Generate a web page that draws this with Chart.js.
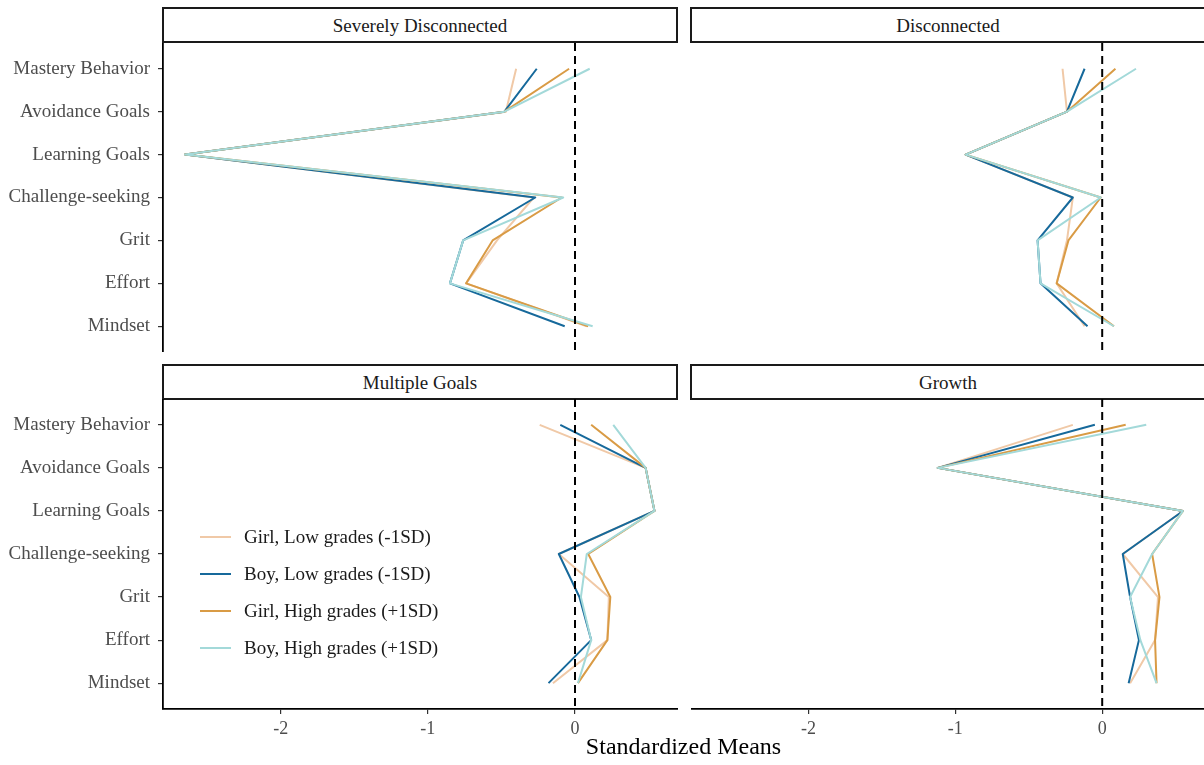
<!DOCTYPE html>
<html>
<head>
<meta charset="utf-8">
<script src="https://cdn.jsdelivr.net/npm/chart.js@4.4.1/dist/chart.umd.min.js"></script>
<style>
  body { margin: 0; background: #fff; font-family: "Liberation Serif", serif; }
  #wrap { position: relative; width: 1204px; height: 765px; overflow: hidden; }
  canvas { position: absolute; }
  .strip { position: absolute; box-sizing: border-box; border: 2px solid #1a1a1a; background: #fff;
           text-align: center; font-size: 19px; color: #1a1a1a; height: 36px; line-height: 34px; }
  #xtitle { position: absolute; left: 163px; width: 1041px; top: 733px; text-align: center;
            font-size: 24px; color: #000; }
  #legend { position: absolute; left: 200px; top: 518px; }
  .lg { height: 37px; display: flex; align-items: center; font-size: 19px; color: #1a1a1a; }
  .lg span.sw { display: inline-block; width: 31px; height: 2px; margin-right: 13px; }
</style>
</head>
<body>
<div id="wrap">
  <div class="strip" style="left:162px;top:7px;width:516px;">Severely Disconnected</div>
  <div class="strip" style="left:690px;top:7px;width:516px;">Disconnected</div>
  <div class="strip" style="left:162px;top:364px;width:516px;">Multiple Goals</div>
  <div class="strip" style="left:690px;top:364px;width:516px;">Growth</div>
  <canvas id="sd" width="678" height="309" style="left:0;top:43px;"></canvas>
  <canvas id="dc" width="514" height="309" style="left:691px;top:43px;"></canvas>
  <canvas id="mg" width="678" height="366" style="left:0;top:399px;"></canvas>
  <canvas id="gr" width="514" height="366" style="left:691px;top:399px;"></canvas>
  <div id="legend"></div>
  <div id="xtitle">Standardized Means</div>
</div>
<script>
/*** Data ***/
const categories = ['Mastery Behavior', 'Avoidance Goals', 'Learning Goals', 'Challenge-seeking', 'Grit', 'Effort', 'Mindset'];
const seriesNames = ['Girl, Low grades (-1SD)', 'Boy, Low grades (-1SD)', 'Girl, High grades (+1SD)', 'Boy, High grades (+1SD)'];
const seriesColors = ['#f0c9a7', '#16699b', '#d99b45', '#a3d9d9'];
const xTicks = [-2, -1, 0];

// Severely Disconnected
const sdGirlLow = [-0.40, -0.47, -2.65, -0.28, -0.53, -0.74, 0.08];
const sdBoyLow = [-0.26, -0.48, -2.65, -0.27, -0.76, -0.85, -0.07];
const sdGirlHigh = [-0.04, -0.48, -2.65, -0.09, -0.56, -0.74, 0.09];
const sdBoyHigh = [0.10, -0.48, -2.65, -0.08, -0.76, -0.85, 0.12];

// Disconnected
const dcGirlLow = [-0.27, -0.24, -0.93, -0.20, -0.24, -0.31, -0.12];
const dcBoyLow = [-0.12, -0.24, -0.93, -0.20, -0.44, -0.42, -0.10];
const dcGirlHigh = [0.09, -0.24, -0.93, -0.01, -0.23, -0.31, 0.08];
const dcBoyHigh = [0.23, -0.24, -0.93, -0.01, -0.44, -0.42, 0.08];

// Multiple Goals
const mgGirlLow = [-0.24, 0.48, 0.54, -0.11, 0.23, 0.22, -0.15];
const mgBoyLow = [-0.10, 0.48, 0.54, -0.11, 0.03, 0.11, -0.18];
const mgGirlHigh = [0.11, 0.48, 0.54, 0.09, 0.24, 0.22, 0.02];
const mgBoyHigh = [0.26, 0.48, 0.54, 0.08, 0.04, 0.11, 0.02];

// Growth
const grGirlLow = [-0.20, -1.12, 0.55, 0.14, 0.38, 0.36, 0.19];
const grBoyLow = [-0.05, -1.12, 0.55, 0.14, 0.19, 0.25, 0.18];
const grGirlHigh = [0.16, -1.12, 0.55, 0.34, 0.39, 0.36, 0.37];
const grBoyHigh = [0.30, -1.12, 0.55, 0.34, 0.19, 0.26, 0.37];

/*** Helpers ***/
const Y_MIN = -0.6, Y_MAX = categories.length - 1 + 0.6;

function toPoints(values) {
    return values.map((v, i) => ({ x: v, y: i }));
}

function drawPanel(id, series, showY, showX) {
    var datasets = [{
        data: [{ x: 0, y: Y_MIN }, { x: 0, y: Y_MAX }],
        showLine: true,
        borderColor: '#000',
        borderWidth: 2,
        borderDash: [8, 5],
        pointRadius: 0,
        order: 0
    }];
    series.forEach(function (values, i) {
        datasets.push({
            label: seriesNames[i],
            data: toPoints(values),
            showLine: true,
            borderColor: seriesColors[i],
            borderWidth: 2,
            borderJoinStyle: 'round',
            pointRadius: 0,
            order: 10 - i
        });
    });

    new Chart(document.getElementById(id), {
        type: 'scatter',
        data: { datasets: datasets },
        options: {
            responsive: false,
            animation: false,
            devicePixelRatio: 1,
            layout: { padding: 0 },
            plugins: { legend: { display: false }, tooltip: { enabled: false } },
            scales: {
                x: {
                    type: 'linear',
                    min: -2.8,
                    max: 0.7,
                    display: showX,
                    afterBuildTicks: function (scale) {
                        scale.ticks = xTicks.map(v => ({ value: v }));
                    },
                    afterFit: function (scale) {
                        scale.height = showX ? 56 : 0;
                        scale.paddingLeft = 0;
                        scale.paddingRight = 0;
                    },
                    grid: { drawOnChartArea: false, tickLength: 5, color: '#333', lineWidth: 1.2 },
                    border: { display: true, color: '#000', width: 1.8 },
                    ticks: { color: '#4d4d4d', padding: 4, font: { family: 'Liberation Serif', size: 18 } }
                },
                y: {
                    type: 'linear',
                    reverse: true,
                    min: Y_MIN,
                    max: Y_MAX,
                    display: showY,
                    afterBuildTicks: function (scale) {
                        scale.ticks = categories.map((c, i) => ({ value: i }));
                    },
                    afterFit: function (scale) {
                        scale.width = showY ? 163 : 0;
                        scale.paddingTop = 0;
                        scale.paddingBottom = 0;
                    },
                    grid: { drawOnChartArea: false, tickLength: 5, color: '#333', lineWidth: 1.2 },
                    border: { display: true, color: '#000', width: 1.8 },
                    ticks: {
                        color: '#4d4d4d',
                        padding: 8,
                        font: { family: 'Liberation Serif', size: 19 },
                        callback: function (v) { return categories[v]; }
                    }
                }
            }
        }
    });
}

/*** Panels ***/
drawPanel('sd', [sdGirlLow, sdBoyLow, sdGirlHigh, sdBoyHigh], true, false);
drawPanel('dc', [dcGirlLow, dcBoyLow, dcGirlHigh, dcBoyHigh], false, false);
drawPanel('mg', [mgGirlLow, mgBoyLow, mgGirlHigh, mgBoyHigh], true, true);
drawPanel('gr', [grGirlLow, grBoyLow, grGirlHigh, grBoyHigh], false, true);

/*** Legend ***/
var legend = document.getElementById('legend');
seriesNames.forEach(function (name, i) {
    var row = document.createElement('div');
    row.className = 'lg';
    row.innerHTML = '<span class="sw" style="background:' + seriesColors[i] + '"></span>' + name;
    legend.appendChild(row);
});
</script>
</body>
</html>
